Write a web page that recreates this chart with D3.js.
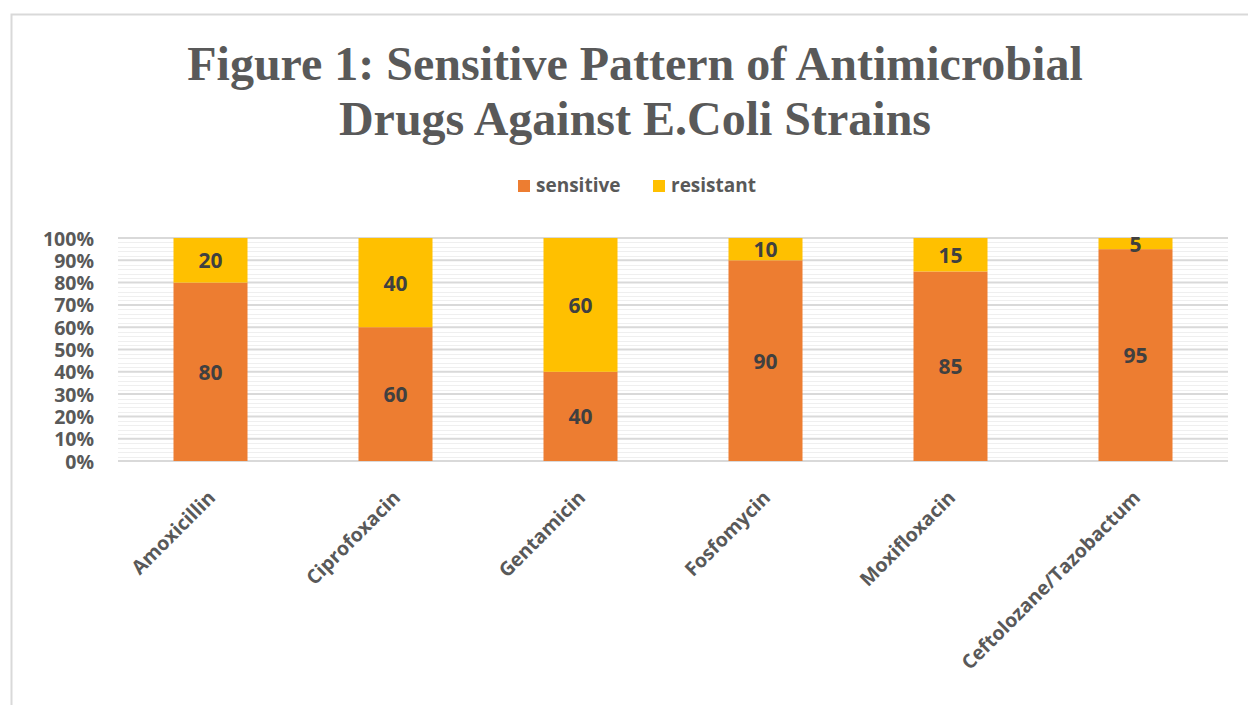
<!DOCTYPE html>
<html>
<head>
<meta charset="utf-8">
<script src="https://cdn.jsdelivr.net/npm/d3@7"></script>
<style>
  html, body { margin: 0; padding: 0; background: #fff; }
  svg { display: block; }
</style>
</head>
<body>
<svg id="chart" width="1248" height="705"></svg>
<script>
// Antimicrobial susceptibility of E. coli strains (percent of isolates)
const drugs = ["Amoxicillin", "Ciprofoxacin", "Gentamicin", "Fosfomycin", "Moxifloxacin", "Ceftolozane/Tazobactum"];
const sensitive = [80, 60, 40, 90, 85, 95];
const resistant = [20, 40, 60, 10, 15, 5];
const seriesNames = ["sensitive", "resistant"];
const yTicks = [0, 10, 20, 30, 40, 50, 60, 70, 80, 90, 100];

const colors = { sensitive: "#ED7D31", resistant: "#FFC000" };
const labelFont = "'Open Sans', 'DejaVu Sans', sans-serif";

const svg = d3.select("#chart");
const W = 1248, H = 705;
const margin = { left: 118, right: 20, top: 238, bottom: 244 };
const plotW = W - margin.left - margin.right;
const plotH = H - margin.top - margin.bottom;

// Outer chart frame
svg.append("path")
  .attr("d", `M11.5,${H} V14.5 H${W}`)
  .attr("fill", "none")
  .attr("stroke", "#d9d9d9")
  .attr("stroke-width", 2);

// Title
const title = svg.append("text")
  .attr("text-anchor", "middle")
  .attr("font-family", "'Liberation Serif', 'Times New Roman', serif")
  .attr("font-weight", "bold")
  .attr("font-size", 48)
  .attr("fill", "#595959");
title.append("tspan").attr("x", 635).attr("y", 80).text("Figure 1: Sensitive Pattern of Antimicrobial");
title.append("tspan").attr("x", 635).attr("y", 135).text("Drugs Against E.Coli Strains");

// Legend
const legendItems = [
  { name: seriesNames[0], x: 518 },
  { name: seriesNames[1], x: 653 }
];
const legend = svg.append("g");
legendItems.forEach(it => {
  legend.append("rect")
    .attr("x", it.x).attr("y", 180)
    .attr("width", 12).attr("height", 12)
    .attr("fill", colors[it.name]);
  legend.append("text")
    .attr("x", it.x + 18).attr("y", 192)
    .attr("font-family", labelFont)
    .attr("font-weight", "bold")
    .attr("font-size", 19)
    .attr("fill", "#595959")
    .text(it.name);
});

const g = svg.append("g").attr("transform", `translate(${margin.left},${margin.top})`);

const x = d3.scaleBand().domain(drugs).range([0, plotW]).paddingInner(0.6).paddingOuter(0.3);
const y = d3.scaleLinear().domain([0, 100]).range([plotH, 0]);

// Minor gridlines every 2%
const minor = d3.range(0, 101, 2).filter(v => v % 10 !== 0);
g.append("g").selectAll("line").data(minor).join("line")
  .attr("x1", 0).attr("x2", plotW)
  .attr("y1", d => Math.round(y(d)) + 0.5).attr("y2", d => Math.round(y(d)) + 0.5)
  .attr("stroke", "#efefef").attr("stroke-width", 1);

// Major gridlines
g.append("g").selectAll("line").data(yTicks).join("line")
  .attr("x1", 0).attr("x2", plotW)
  .attr("y1", d => y(d)).attr("y2", d => y(d))
  .attr("stroke", "#d9d9d9").attr("stroke-width", 2);

// Y axis labels
const yAxis = g.append("g").call(
  d3.axisLeft(y).tickValues(yTicks).tickFormat(d => d + "%").tickSize(0).tickPadding(24)
);
yAxis.select(".domain").remove();
yAxis.selectAll("text")
  .attr("font-family", labelFont)
  .attr("font-weight", "bold")
  .attr("font-size", 19.5)
  .attr("fill", "#595959")
  .attr("dy", "0.36em");

// Stacked bars
const rows = drugs.map((d, i) => ({ drug: d, sensitive: sensitive[i], resistant: resistant[i] }));
const stack = d3.stack().keys(seriesNames)(rows);

const layers = g.append("g").selectAll("g").data(stack).join("g")
  .attr("fill", s => colors[s.key]);
layers.selectAll("rect").data(s => s).join("rect")
  .attr("x", d => x(d.data.drug))
  .attr("width", x.bandwidth())
  .attr("y", d => y(d[1]))
  .attr("height", d => y(d[0]) - y(d[1]));

// Value labels
const labels = g.append("g");
stack.forEach(s => {
  s.forEach(d => {
    labels.append("text")
      .attr("x", x(d.data.drug) + x.bandwidth() / 2)
      .attr("y", (y(d[0]) + y(d[1])) / 2)
      .attr("dy", "0.38em")
      .attr("text-anchor", "middle")
      .attr("font-family", labelFont)
      .attr("font-weight", "bold")
      .attr("font-size", 21)
      .attr("fill", "#404040")
      .text(d[1] - d[0]);
  });
});

// Category axis with rotated labels
const xAxis = g.append("g").attr("transform", `translate(0,${plotH})`)
  .call(d3.axisBottom(x).tickSize(0).tickPadding(0));
xAxis.select(".domain").remove();
xAxis.selectAll("text")
  .attr("font-family", labelFont)
  .attr("font-weight", "bold")
  .attr("font-size", 19.5)
  .attr("fill", "#595959")
  .attr("text-anchor", "end")
  .attr("dy", null)
  .attr("y", null)
  .attr("transform", "translate(6,38) rotate(-45)");
</script>
</body>
</html>
